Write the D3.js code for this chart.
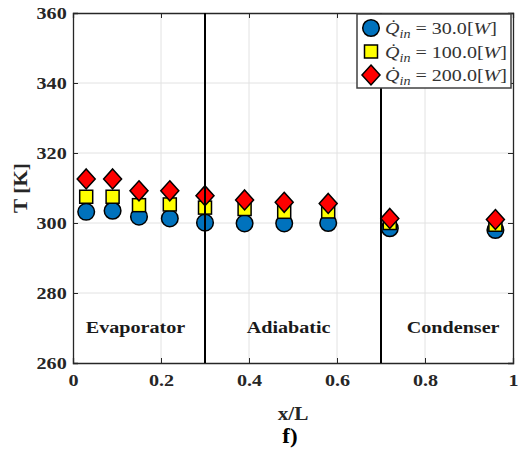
<!DOCTYPE html>
<html lang="en">
  <head>
    <meta charset="utf-8">
    <title>T vs x/L</title>
    <script src="https://d3js.org/d3.v7.min.js"></script>
    <style>
      body { margin: 0; background: #fff; }
      text { font-family: "Liberation Serif", "Times New Roman", serif; }
    </style>
  </head>
  <body>
    <script type="text/javascript">

      var w = 521;
      var h = 457;
      var margin = {top: 13, right: 8, bottom: 94, left: 73};
      var innerWidth = w - margin.left - margin.right;
      var innerHeight = h - margin.top - margin.bottom;

      // data
      var xPos = [0.03, 0.09, 0.15, 0.22, 0.30, 0.39, 0.48, 0.58, 0.72, 0.96];
      var t30  = [303.2, 303.5, 301.8, 301.3, 300.1, 299.9, 299.9, 300.0, 298.5, 298.0];
      var t100 = [307.5, 307.5, 305.1, 305.3, 304.4, 304.0, 303.2, 303.3, 300.0, 299.5];
      var t200 = [312.6, 312.6, 309.2, 309.2, 307.8, 306.6, 305.9, 305.6, 301.3, 301.0];
      var seriesNames = ["30.0", "100.0", "200.0"];
      var xTicks = [0, 0.2, 0.4, 0.6, 0.8, 1];
      var yTicks = [260, 280, 300, 320, 340, 360];
      var zoneBounds = [0.3, 0.7];
      var zoneNames = ["Evaporator", "Adiabatic", "Condenser"];
      var zoneCenters = [0.142, 0.49, 0.864];

      var sx = 1.15; // the original text is a bit wider than Liberation Serif

      var svg = d3.select("body")
          .append("svg")
          .attr("width", w)
          .attr("height", h);

      var g = svg.append("g")
          .attr("transform", "translate(" + margin.left + "," + margin.top + ")");

      var xscale = d3.scaleLinear().domain([0, 1]).range([0, innerWidth]);
      var yscale = d3.scaleLinear().domain([260, 360]).range([innerHeight, 0]);

      // grid
      g.selectAll("line.gx")
        .data(xTicks.slice(1, -1))
        .enter().append("line")
        .attr("x1", d => xscale(d)).attr("x2", d => xscale(d))
        .attr("y1", 0).attr("y2", innerHeight)
        .attr("stroke", "#e2e2e2").attr("stroke-width", 1);

      g.selectAll("line.gy")
        .data(yTicks.slice(1, -1))
        .enter().append("line")
        .attr("y1", d => yscale(d)).attr("y2", d => yscale(d))
        .attr("x1", 0).attr("x2", innerWidth)
        .attr("stroke", "#e2e2e2").attr("stroke-width", 1);

      // axes
      var x_axis = d3.axisBottom(xscale).tickValues(xTicks)
          .tickSize(-5).tickPadding(11).tickFormat(d3.format("~g"));
      var y_axis = d3.axisLeft(yscale).tickValues(yTicks)
          .tickSize(-5).tickPadding(5.5);

      var ax = g.append("g").attr("transform", "translate(0," + innerHeight + ")").call(x_axis);
      var ay = g.append("g").call(y_axis);
      var axTop = g.append("g").call(d3.axisTop(xscale).tickValues(xTicks).tickSize(-5));
      var ayRight = g.append("g").attr("transform", "translate(" + innerWidth + ",0)")
          .call(d3.axisRight(yscale).tickValues(yTicks).tickSize(-5));
      axTop.selectAll(".tick text").remove();
      ayRight.selectAll(".tick text").remove();

      [ax, ay, axTop, ayRight].forEach(function(a) {
        a.select(".domain").attr("stroke", "#262626").attr("stroke-width", 1.3);
        a.selectAll(".tick line").attr("stroke", "#262626");
        a.selectAll(".tick text")
          .attr("fill", "#262626")
          .attr("transform", "scale(" + sx + ",1)")
          .style("font-family", "'Liberation Serif', serif")
          .style("font-weight", "bold")
          .style("font-size", "17.5px");
      });

      // zone labels
      g.selectAll("text.zone")
        .data(zoneNames)
        .enter().append("text")
        .attr("transform", (d, i) => "translate(" + xscale(zoneCenters[i]) + "," + yscale(268.6) + ") scale(" + sx + ",1)")
        .attr("text-anchor", "middle")
        .attr("font-weight", "bold")
        .attr("font-size", "17.5px")
        .attr("fill", "#1a1a1a")
        .text(d => d);

      // markers
      var colors = ["#0072BD", "#FFFF00", "#FF0000"];

      var pts = (vals) => xPos.map((x, i) => ({x: x, t: vals[i]}));

      g.append("g").selectAll("circle")
        .data(pts(t30))
        .enter().append("circle")
        .attr("cx", d => xscale(d.x))
        .attr("cy", d => yscale(d.t))
        .attr("r", 8.3)
        .attr("fill", colors[0])
        .attr("stroke", "#000").attr("stroke-width", 1.5);

      g.append("g").selectAll("rect")
        .data(pts(t100))
        .enter().append("rect")
        .attr("x", d => xscale(d.x) - 6.5)
        .attr("y", d => yscale(d.t) - 6.5)
        .attr("width", 13).attr("height", 13)
        .attr("fill", colors[1])
        .attr("stroke", "#000").attr("stroke-width", 1.5);

      var diamond = "M0,-10L9,0L0,10L-9,0Z";
      g.append("g").selectAll("path")
        .data(pts(t200))
        .enter().append("path")
        .attr("d", diamond)
        .attr("transform", d => "translate(" + xscale(d.x) + "," + yscale(d.t) + ")")
        .attr("fill", colors[2])
        .attr("stroke", "#000").attr("stroke-width", 1.5);

      // zone boundaries
      g.selectAll("line.zb")
        .data(zoneBounds)
        .enter().append("line")
        .attr("x1", d => xscale(d)).attr("x2", d => xscale(d))
        .attr("y1", 0).attr("y2", innerHeight)
        .attr("stroke", "#000").attr("stroke-width", 2);

      // axis labels
      g.append("text")
        .attr("transform", "translate(-46," + innerHeight / 2 + ") rotate(-90) scale(" + sx + ",1)")
        .attr("text-anchor", "middle")
        .attr("font-weight", "bold").attr("font-size", "18.5px")
        .attr("fill", "#262626")
        .text("T [K]");

      g.append("text")
        .attr("transform", "translate(" + (innerWidth / 2) + "," + (innerHeight + 57) + ") scale(" + sx + ",1)")
        .attr("text-anchor", "middle")
        .attr("font-weight", "bold").attr("font-size", "18.5px")
        .attr("fill", "#262626")
        .text("x/L");

      svg.append("text")
        .attr("transform", "translate(290,443) scale(" + sx + ",1)")
        .attr("text-anchor", "middle")
        .attr("font-weight", "bold").attr("font-size", "20px")
        .attr("fill", "#000")
        .text("f)");

      // legend
      var lg = g.append("g").attr("transform", "translate(" + (357 - margin.left) + "," + (14 - margin.top) + ")");
      lg.append("rect")
        .attr("width", 154).attr("height", 74)
        .attr("fill", "#fff")
        .attr("stroke", "#404040").attr("stroke-width", 1.5);

      seriesNames.forEach(function(name, i) {
        var cy = 14 + i * 23.5;
        var mk;
        if (i == 0) {
          mk = lg.append("circle").attr("cx", 14).attr("cy", cy).attr("r", 8.3);
        } else if (i == 1) {
          mk = lg.append("rect").attr("x", 14 - 6.5).attr("y", cy - 6.5).attr("width", 13).attr("height", 13);
        } else {
          mk = lg.append("path").attr("d", diamond).attr("transform", "translate(14," + cy + ")");
        }
        mk.attr("fill", colors[i]).attr("stroke", "#000").attr("stroke-width", 1.5);

        var t = lg.append("text")
          .attr("transform", "translate(28," + (cy + 6) + ") scale(1.18,1)")
          .attr("font-size", "17px")
          .attr("fill", "#333");
        t.append("tspan").attr("font-style", "italic").text("Q\u0307");
        t.append("tspan").attr("font-style", "italic").attr("font-size", "12px").attr("dy", 4).text("in");
        t.append("tspan").attr("dy", -4).text(" = " + name + "[");
        t.append("tspan").attr("font-style", "italic").text("W");
        t.append("tspan").text("]");
      });

    </script>
  </body>
</html>
